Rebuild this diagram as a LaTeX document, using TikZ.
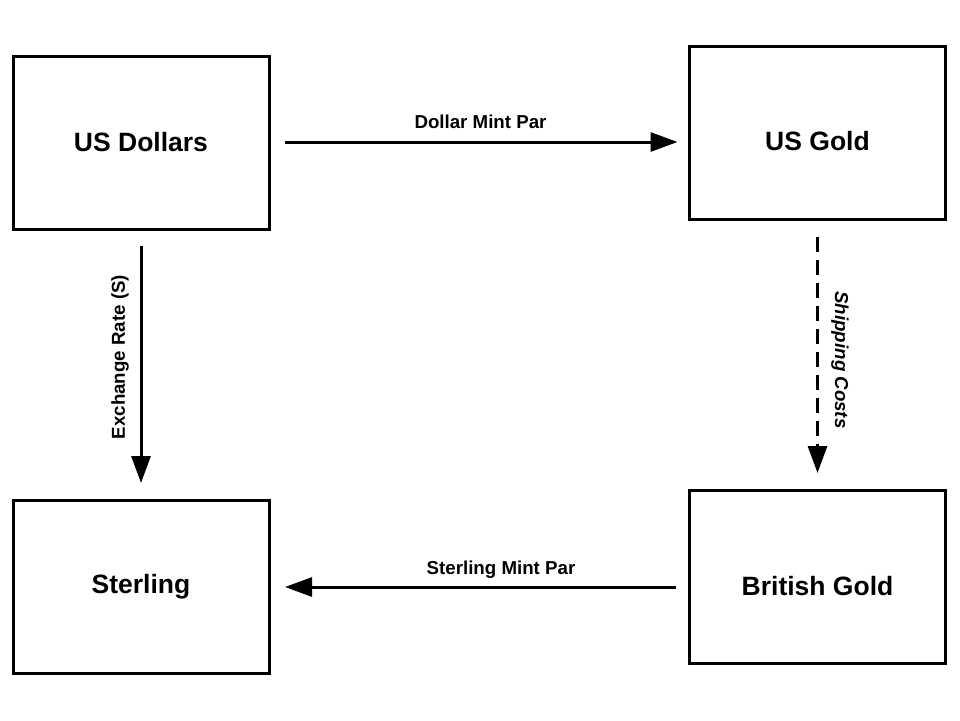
\documentclass[tikz,border=0pt]{standalone}
\usepackage{fontspec}
\setmainfont{Liberation Sans}
\usetikzlibrary{arrows.meta}
\begin{document}
\begin{tikzpicture}[x=1pt,y=1pt,
  box/.style={draw=black, line width=3pt, minimum width=256pt, minimum height=173pt, inner sep=0pt},
  boxtext/.style={font=\fontsize{26.5}{30}\selectfont\bfseries, inner sep=0pt},
  conn/.style={line width=3pt, -{Triangle[length=27pt,width=19pt]}},
  lbl/.style={font=\fontsize{18.7}{22}\selectfont\bfseries, inner sep=0pt}]
\useasboundingbox (0,0) rectangle (960,-720);
\node[box] (usd) at (141,-142.5) {};
\node[box] (usg) at (817.5,-133) {};
\node[box] (st) at (141,-586.5) {};
\node[box] (bg) at (817.5,-576.5) {};
\node[boxtext] (usdt) at (141,-142) {US Dollars};
\node[boxtext] (usgt) at (817.5,-141) {US Gold};
\node[boxtext] (stt) at (141,-586.5) {Sterling};
\node[boxtext] (bgt) at (817.5,-586) {British Gold};
\coordinate (a1) at (usd.east |- 0,-142);
\coordinate (a2) at (usg.west |- 0,-142);
\draw[conn, shorten <=14.5pt, shorten >=10.5pt] (a1) -- (a2);
\node[lbl, anchor=base] (l1) at (480.5,-128.3) {Dollar Mint Par};
\coordinate (b1) at (bg.west |- 0,-587);
\coordinate (b2) at (st.east |- 0,-587);
\draw[conn, shorten <=12.5pt, shorten >=14.5pt] (b1) -- (b2);
\node[lbl, anchor=base] (l2) at (501,-574) {Sterling Mint Par};
\draw[conn, shorten <=15.5pt, shorten >=15.5pt] (usd.south) -- (st.north);
\node[lbl, rotate=90] (l3) at (120,-357) {Exchange Rate (S)};
\draw[conn, dash pattern=on 15pt off 8pt, shorten <=15.5pt, shorten >=15.5pt] (usg.south) -- (bg.north);
\node[lbl, rotate=-90, font=\fontsize{18.7}{22}\selectfont\bfseries\itshape] (l4) at (840,-360) {Shipping Costs};
\end{tikzpicture}
\end{document}
